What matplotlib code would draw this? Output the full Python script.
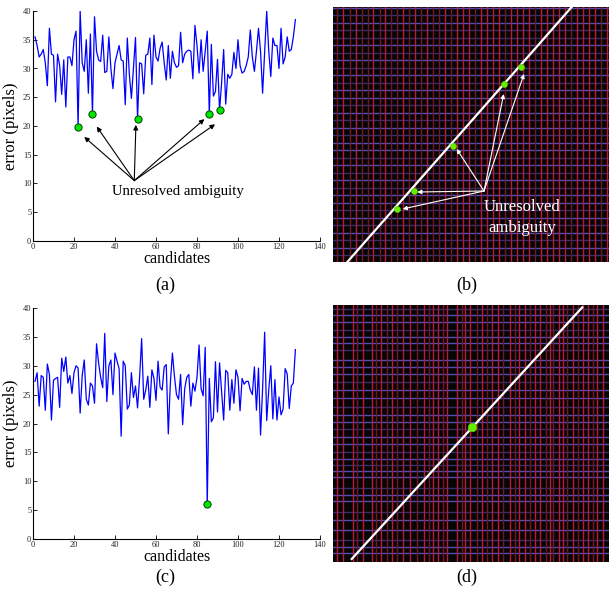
import matplotlib
matplotlib.use("Agg")
import matplotlib.pyplot as plt

plt.rcParams['font.family'] = ['Liberation Serif', 'DejaVu Serif']

# ---- data: error per candidate ----
err_a = [35.5, 34, 32, 32.5, 33.3, 31, 27, 37, 32.5, 32.3, 24.2, 32.5, 30.5, 25.5, 31.5, 23.3, 32, 32, 30.5, 35, 36.5,
         19.8,
         40, 31, 29.5, 35, 25.7, 36,
         22.1,
         39, 33, 31.5, 31.2, 35.8, 29.3, 29.5, 35.5, 30, 26.5, 31, 32.5, 34, 31.5, 31.3, 23.7, 35.3, 29, 24.8, 30, 35.4,
         21.3,
         31, 30.8, 25.6, 32.3, 32.5, 35.3, 27.2, 35.8, 32, 31.3, 33.5, 34.6, 31, 28, 34, 28.3, 33, 31, 30.2, 30.5,
         36.3, 31, 32.5, 33, 33.2, 33, 28.2, 37.5, 34, 29.2, 35, 29.5, 33, 36.5,
         22.1,
         34.2, 25.2, 26, 31.6,
         22.7,
         27.5, 33.3, 23.8, 29, 28.3, 29, 32.8, 30, 35, 30.5, 29.2, 29.5, 30.5, 32, 36.7, 32, 29.5, 33, 37, 33,
         25.7, 33, 40, 33, 28.6, 35.3, 34, 34, 30, 37, 30.8, 32, 35.5, 33, 33.3, 35.5, 38.5]
picks_a = [22, 29, 51, 86, 91]

err_c = [27.3, 28.8, 23, 28.3, 28, 22.3, 30.3, 28.5, 20.6, 27.5, 27.8, 28, 22.8, 31.3, 29, 31.5, 27, 28.3, 25.2, 28.8,
         30, 29.6, 21.8, 28.3, 31, 24.2, 23.2, 27, 26.5, 23.5, 33.8, 30.5, 28, 26.2, 35.6, 23.8, 30, 31, 25, 32.2,
         30.8, 29.5, 17.8,
         30.8, 30, 22.5, 23.2, 28.8, 24.5, 26.5, 22.7, 28, 34.7, 24.2, 25.8, 28.2, 22.8, 29.3, 27.8, 24, 30.8, 26.3,
         25.8, 29.8, 30.2, 18.2, 27, 32.2, 28.2, 25, 24.2, 28.5, 19.8, 26, 28, 28.5, 23, 27, 25.6, 28, 33.6, 26, 24.8,
         33.2,
         6,
         27.8, 20.3, 21, 30.7, 22, 30.5, 25.5, 20.6, 29.2, 28.8, 22.3, 27.6, 23.5, 29.3, 28, 22.2, 27.8, 26.8, 27.3,
         27.3, 25.8, 25, 29.8, 22.3, 29.6, 18, 26, 35.8, 20.5, 25.8, 30, 20.8, 27.6, 20.6, 24.6, 21.5, 22.5, 29.5,
         28.6, 22.6, 26.5, 27, 32.8]
picks_c = [85]

# annotation in (a): arrow origin and arrow tips (data units)
ann_a_origin = (49.4, 10.5)
ann_a_tips = [(25.0, 18.1), (31.1, 19.9), (50.2, 20.2), (83.6, 21.2), (88.8, 20.3)]

# ---- data: grid images (pixel units of the image) ----
b_vlines = [4, 10, 17, 23, 29, 35, 40, 47, 52, 58, 64, 70, 76, 82, 88, 94, 100, 106, 112, 118, 124, 130, 136,
            142, 148, 154, 160, 166, 172, 178, 184, 190, 196, 202, 208, 214, 220, 226, 232, 238, 244, 250, 256,
            262, 268, 274]
b_vbright = [0, 1, 0, 1, 0, 0, 1, 0, 1, 0, 0, 1, 0, 1, 0, 1, 0, 0, 1, 0, 1, 1, 1, 0, 1, 1, 1, 1, 0, 1, 1, 1,
             1, 0, 1, 1, 1, 1, 1, 0, 1, 1, 1, 1, 0, 1]
b_hlines = [1, 8, 16, 23, 31, 38, 46, 53, 61, 68, 76, 83, 91, 98, 106, 113, 121, 128, 136, 143, 151, 158, 166,
            173, 181, 188, 196, 203, 211, 218, 226, 233, 241, 248]
b_hbright = [1, 0, 1, 0, 0, 1, 0, 1, 0, 1, 0, 1, 1, 0, 1, 0, 1, 0, 1, 1, 0, 1, 0, 1, 0, 1, 1, 0, 1, 0, 1, 0,
             1, 0]
b_diag = ([14.3, 238.7], [255, 0])
b_dots = ([188, 171, 120.3, 80.7, 64.3], [60, 77.3, 138.7, 183.7, 202])
b_arrow_origin = (151, 184)
b_arrow_tips = [(191, 67), (170.7, 87), (123.7, 142), (84.3, 185), (69.7, 202)]

d_vlines = [4.3, 10.3, 19.7, 24.3, 29.7, 38.7, 42.7, 47.7, 54.3, 58.7, 63.7, 69.7, 77, 84.3, 91.3, 96.3, 100.3,
            105.3, 109.7, 114.3, 123.7, 128.7, 132, 137, 143.7, 148.7, 153.7, 158.7, 165.3, 170.3, 177, 182,
            186.3, 192, 197, 202, 207, 213, 217, 219.7, 225.7, 230.3, 234.3, 240.3, 245.3, 249.7, 255.3, 260.3,
            263.7, 270.3]
d_vbright = [1, 1, 1, 0, 1, 1, 0, 1, 0, 1, 0, 1, 1, 0, 1, 0, 1, 1, 0, 1, 1, 0, 1, 1, 0, 1, 0, 1, 1, 0, 1, 0,
             1, 1, 0, 1, 1, 0, 1, 0, 1, 1, 0, 1, 0, 1, 1, 0, 1, 1]
d_hlines = [4.3, 10, 16.7, 25, 32.3, 38.3, 45, 55, 61.7, 69, 76.7, 85, 93.3, 101.7, 110, 116.7, 124.3, 131.7,
            139, 146.7, 154.3, 160, 165.7, 171.7, 183.3, 190, 195.7, 206.7, 215, 225, 235, 241.7, 248.3]
d_hbright = [0, 1, 1, 0, 1, 1, 0, 1, 1, 1, 0, 1, 1, 0, 1, 1, 0, 1, 1, 0, 1, 0, 1, 1, 0, 1, 1, 0, 1, 1, 0, 1, 1]
d_diag = ([18.7, 249.3], [254, 2.3])
d_dots = ([139.3], [122.3])

W, H = 609, 592
fig = plt.figure(figsize=(W / 100, H / 100), dpi=100)


def px_axes(left, top, right, bottom):
    return fig.add_axes([left / W, 1 - bottom / H, (right - left) / W, (bottom - top) / H])


def curve_panel(ax, err, picks):
    xs = list(range(1, len(err) + 1))
    ax.plot(xs, err, color='#0000ff', lw=0.9)
    ax.plot(picks, [err[i - 1] for i in picks], 'o', ms=5.2, mfc='#00e600', mec='#004400', mew=0.7)
    ax.set_xlim(0, 140)
    ax.set_ylim(0, 40)
    ax.set_xticks(range(0, 141, 20))
    ax.set_yticks(range(0, 41, 5))
    ax.spines['top'].set_visible(False)
    ax.spines['right'].set_visible(False)
    ax.spines['left'].set_linewidth(0.8)
    ax.spines['bottom'].set_linewidth(0.8)
    ax.tick_params(direction='in', length=3, width=0.7, labelsize=6, pad=1.2, colors='#222222')
    ax.set_xlabel('candidates', fontsize=11.5)
    ax.set_ylabel('error (pixels)', fontsize=12)
    ax.xaxis.set_label_coords(0.5, -0.045)
    ax.yaxis.set_label_coords(-0.05, 0.5)


def grid_panel(ax, w, h, vl, vb, hl, hb):
    ax.set_facecolor('#060606')
    for y, b in zip(hl, hb):
        ax.axhline(y, color='#4e4eb4' if b else '#30306e', lw=1.0)
    for x, b in zip(vl, vb):
        ax.axvline(x, color='#c01830' if b else '#781624', lw=1.0)
    ax.set_xlim(0, w)
    ax.set_ylim(h, 0)
    ax.set_xticks([])
    ax.set_yticks([])
    for s in ax.spines.values():
        s.set_visible(False)


# (a)
ax_a = px_axes(33, 11, 320, 241)
curve_panel(ax_a, err_a, picks_a)
for tip in ann_a_tips:
    ax_a.annotate('', xy=tip, xytext=ann_a_origin,
                  arrowprops=dict(arrowstyle='-|>', color='black', lw=0.8, mutation_scale=7,
                                  shrinkA=0, shrinkB=0))
ax_a.text(70.7, 8.0, 'Unresolved ambiguity', ha='center', va='baseline', fontsize=10.6)

# (c)
ax_c = px_axes(33, 308, 320, 539)
curve_panel(ax_c, err_c, picks_c)

# (b)
ax_b = px_axes(333, 7, 609, 262)
grid_panel(ax_b, 276, 255, b_vlines, b_vbright, b_hlines, b_hbright)
ax_b.plot(b_diag[0], b_diag[1], color='white', lw=1.6)
ax_b.plot(b_dots[0], b_dots[1], 'o', ms=4.4, mfc='#66ee00', mec='#55cc00', mew=0.4)
for tip in b_arrow_tips:
    ax_b.annotate('', xy=tip, xytext=b_arrow_origin,
                  arrowprops=dict(arrowstyle='-|>', color='white', lw=0.8, mutation_scale=6,
                                  shrinkA=0, shrinkB=0))
ax_b.text(189, 204, 'Unresolved', color='white', ha='center', va='baseline', fontsize=12)
ax_b.text(189, 224.7, 'ambiguity', color='white', ha='center', va='baseline', fontsize=12)

# (d)
ax_d = px_axes(333, 305, 609, 562)
grid_panel(ax_d, 276, 257, d_vlines, d_vbright, d_hlines, d_hbright)
ax_d.plot(d_diag[0], d_diag[1], color='white', lw=1.6)
ax_d.plot(d_dots[0], d_dots[1], 'o', ms=6.2, mfc='#66ee00', mec='#55cc00', mew=0.4)

# captions
for label, cx, cy in [('(a)', 165, 285), ('(b)', 467, 285), ('(c)', 165, 577), ('(d)', 467, 577)]:
    fig.text(cx / W, 1 - cy / H, label, ha='center', va='center', fontsize=13)

fig.savefig('out.png', dpi=100)
